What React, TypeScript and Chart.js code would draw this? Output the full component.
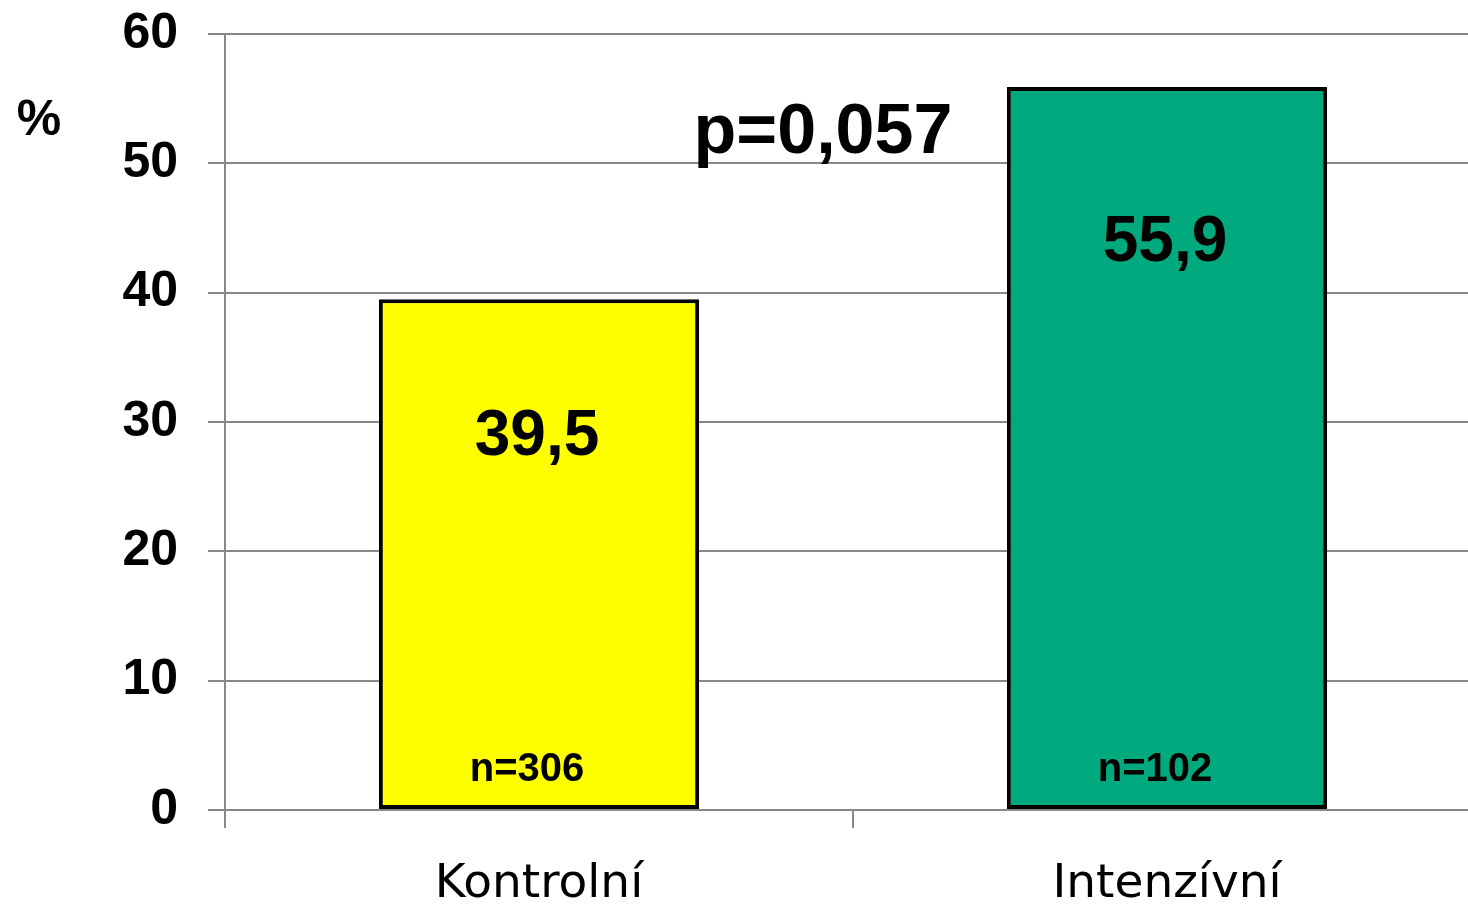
import React, { useEffect, useRef } from "react";
import { Chart, registerables } from "chart.js";

Chart.register(...registerables);

const categories = ["Kontrolní", "Intenzívní"];
const values = [39.5, 55.9];
const valueLabels = ["39,5", "55,9"];
const sampleLabels = ["n=306", "n=102"];
const barColors = ["#FFFF00", "#00AA7E"];
const yMin = 0;
const yMax = 60;
const yStep = 10;
const pValueLabel = "p=0,057";
const unitLabel = "%";

// style: vertical drop of value labels below bar tops (px)
const valueLabelDrop = [156, 174];

const GRID = "#888888";
const BOLD = "'Liberation Sans', Arial, sans-serif";

const labelsPlugin = {
  id: "labelsPlugin",
  afterDatasetsDraw(chart: any) {
    const ctx = chart.ctx;
    const meta = chart.getDatasetMeta(0);
    const y = chart.scales.y;
    const area = chart.chartArea;
    ctx.save();
    ctx.fillStyle = "#000";
    ctx.textBaseline = "alphabetic";
    ctx.textAlign = "center";
    meta.data.forEach((bar: any, i: number) => {
      ctx.font = `bold 64px ${BOLD}`;
      ctx.fillText(valueLabels[i], bar.x - 2, bar.y + valueLabelDrop[i]);
      ctx.font = `bold 40px ${BOLD}`;
      ctx.fillText(sampleLabels[i], bar.x - 12, bar.base - 28);
    });
    // p-value
    ctx.font = `bold 70px ${BOLD}`;
    const x0 = meta.data[0].x;
    const x1 = meta.data[1].x;
    ctx.fillText(pValueLabel, (x0 + x1) / 2 - 30, y.getPixelForValue(50.8));
    // unit
    ctx.font = `bold 50px ${BOLD}`;
    ctx.fillText(unitLabel, 39, area.top + 101);
    ctx.restore();
  },
};

export default function App() {
  const ref = useRef<HTMLCanvasElement | null>(null);
  useEffect(() => {
    if (!ref.current) return;
    const chart = new Chart(ref.current, {
      type: "bar",
      data: {
        labels: categories,
        datasets: [
          {
            data: values,
            backgroundColor: barColors,
            borderColor: "#000000",
            borderWidth: 4,
            borderSkipped: false,
            barPercentage: 0.51,
            categoryPercentage: 1,
          },
        ],
      },
      options: {
        responsive: false,
        animation: false,
        devicePixelRatio: 1,
        layout: { padding: { top: 34, right: 9, left: 0, bottom: 0 } },
        plugins: {
          legend: { display: false },
          tooltip: { enabled: false },
          title: { display: false },
        },
        scales: {
          x: {
            afterFit: (s: any) => {
              s.height = 95;
              s.paddingLeft = 0;
              s.paddingRight = 0;
            },
            grid: {
              display: true,
              drawOnChartArea: false,
              drawTicks: true,
              tickLength: 18,
              color: GRID,
              lineWidth: 2,
              offset: true,
            },
            border: { display: true, color: GRID, width: 2 },
            ticks: {
              color: "#000",
              padding: 33,
              font: { family: "'DejaVu Sans', Tahoma, sans-serif", size: 47, weight: "normal", lineHeight: 1 },
            },
          },
          y: {
            min: yMin,
            max: yMax,
            afterFit: (s: any) => {
              s.width = 225;
              s.paddingTop = 0;
              s.paddingBottom = 0;
            },
            grid: {
              color: GRID,
              lineWidth: 2,
              drawTicks: true,
              tickLength: 17,
            },
            border: { display: true, color: GRID, width: 2 },
            ticks: {
              stepSize: yStep,
              color: "#000",
              padding: 30,
              font: { family: BOLD, size: 50, weight: "bold", lineHeight: 1 },
            },
          },
        },
      },
      plugins: [labelsPlugin],
    });
    return () => chart.destroy();
  }, []);
  return (
    <div
      style={{
        position: "fixed",
        left: 0,
        top: 0,
        width: 1468,
        height: 905,
        overflow: "hidden",
        background: "#fff",
      }}
    >
      <canvas ref={ref} width={1490} height={905} style={{ display: "block" }} />
    </div>
  );
}
